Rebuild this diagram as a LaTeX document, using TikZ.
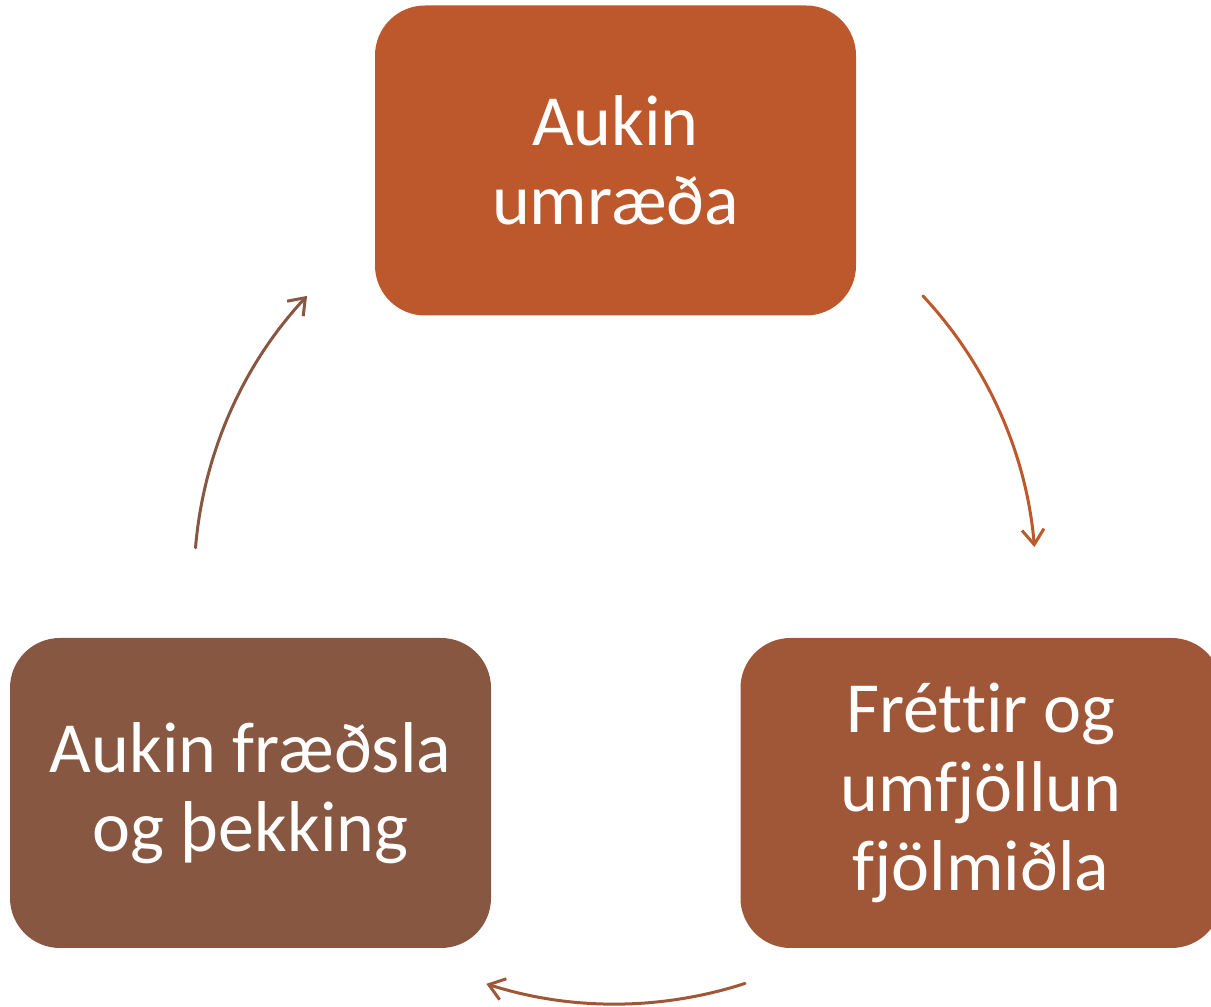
\documentclass[tikz,border=0pt]{standalone}
\usepackage{fontspec}
\setmainfont{Carlito}[Ligatures={NoCommon}]
\usetikzlibrary{arrows.meta}
\definecolor{cTop}{RGB}{189,88,44}
\definecolor{cRight}{RGB}{160,87,55}
\definecolor{cLeft}{RGB}{135,87,66}
\begin{document}
\begin{tikzpicture}[x=1pt,y=1pt,
  box/.style={rounded corners=50pt, minimum width=481pt, minimum height=310pt,
    text=white, align=center, font=\fontsize{72}{79}\selectfont, inner sep=0pt},
  conn/.style={line width=3pt, line cap=round,
    -{Straight Barb[length=15pt,width=22pt,line width=3pt]}}]
\useasboundingbox (0,0) rectangle (1211,1007);
\node[box, fill=cTop] (top) at (615.5,846.5) {Aukin\\umræða};
\node[box, fill=cRight] (right) at (981,214) {Fréttir og\\umfjöllun\\fjölmiðla};
\node[box, fill=cLeft] (left) at (250.5,214) {Aukin fræðsla\\og þekking};
\coordinate (c) at (615,424);
\path (c) ++(43:421) coordinate (a1);
\path (c) ++(-72:421) coordinate (a2);
\path (c) ++(175.2:421) coordinate (a3);
\draw[conn, cTop] (a1) arc[start angle=43, end angle=4.9, radius=421];
\draw[conn, cRight] (a2) arc[start angle=-72, end angle=-107.8, radius=421];
\draw[conn, cLeft] (a3) arc[start angle=175.2, end angle=137, radius=421];
\end{tikzpicture}
\end{document}
